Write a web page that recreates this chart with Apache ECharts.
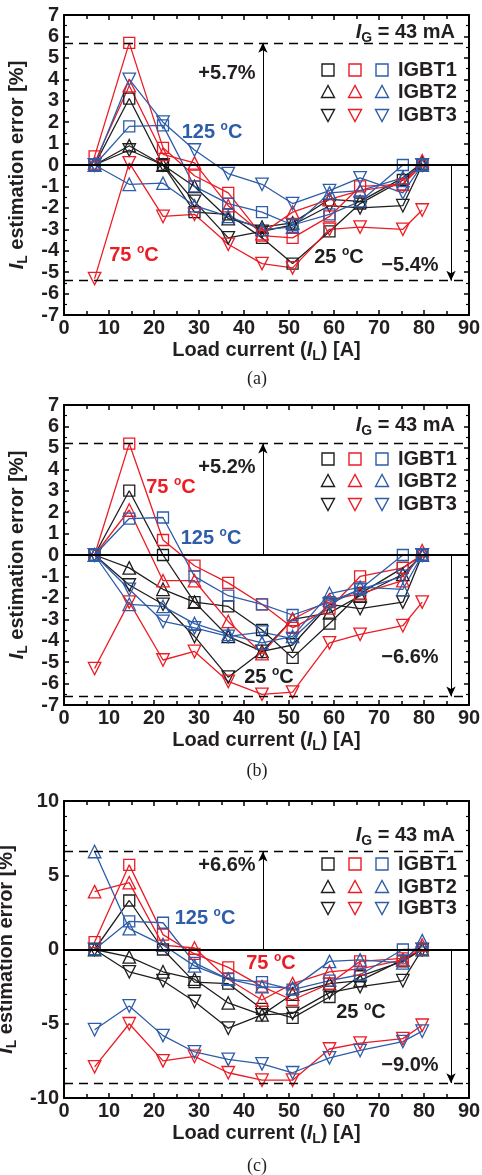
<!DOCTYPE html>
<html><head><meta charset="utf-8">
<script src="https://cdn.jsdelivr.net/npm/echarts@6/dist/echarts.min.js"></script>
<style>html,body{margin:0;padding:0;background:#fff}#c{width:482px;height:1175px}</style>
</head><body><div id="c"></div>
<script>
// ---- data ----
const LOAD_CURRENT = [6.8, 14.5, 22.0, 29.0, 36.5, 44.0, 50.8, 59.0, 65.8, 75.3, 79.6];
const X_TICKS = [0, 90, 10];
const Y_TICKS_A = [-7, 7, 1];
const Y_TICKS_B = [-7, 7, 1];
const Y_TICKS_C = [-10, 10, 5];
const BOUNDS_A = [5.7, -5.4];
const BOUNDS_B = [5.2, -6.6];
const BOUNDS_C = [6.6, -9.0];
const BOUND_LABELS = [['+5.7%', '\u22125.4%'], ['+5.2%', '\u22126.6%'], ['+6.6%', '\u22129.0%']];
const ARROW_X = [44.2, 86.0];
const TEMPS = ['25', '75', '125'];
const IGBTS = ['IGBT1', 'IGBT2', 'IGBT3'];
const CAPTIONS = ['(a)', '(b)', '(c)'];

// (a)
const A_25C_IGBT1 = [0, 3.1, 0, -2.2, -2.3, -3.4, -4.6, -3.1, -1.8, -0.7, 0];
const A_25C_IGBT2 = [0, 0.9, 0, -1.0, -2.5, -2.9, -2.7, -1.6, -1.7, -0.6, 0.1];
const A_25C_IGBT3 = [0, 0.7, 0, -1.7, -3.4, -3.1, -2.8, -1.9, -2.0, -1.9, 0];
const A_75C_IGBT1 = [0.4, 5.7, 0.8, -0.5, -1.3, -3.3, -3.4, -2.4, -1.0, -0.9, 0];
const A_75C_IGBT2 = [0.1, 3.7, 0.5, 0.1, -1.9, -3.2, -2.2, -1.6, -1.2, -0.9, 0.2];
const A_75C_IGBT3 = [-5.3, 0.1, -2.4, -2.3, -3.7, -4.6, -4.8, -3.0, -2.9, -3.0, -2.1];
const A_125C_IGBT1 = [0, 1.8, 1.85, -1.0, -1.8, -2.2, -2.8, -2.3, -1.7, 0, 0];
const A_125C_IGBT2 = [0, -0.9, -0.85, -1.9, -2.4, -3.0, -2.9, -1.3, -1.2, -0.6, 0];
const A_125C_IGBT3 = [0, 4.0, 2.0, 0.7, -0.4, -0.9, -1.8, -1.2, -0.6, -1.3, 0];
// (b)
const B_25C_IGBT1 = [0, 3.0, 0, -2.2, -2.4, -3.5, -4.8, -3.2, -1.8, -0.6, 0];
const B_25C_IGBT2 = [0, -0.6, -1.6, -2.2, -3.8, -4.5, -3.0, -2.7, -1.9, -0.9, 0];
const B_25C_IGBT3 = [0, -1.4, -2.3, -3.8, -5.7, -4.5, -4.2, -2.3, -2.5, -2.2, 0];
const B_75C_IGBT1 = [0, 5.2, 0.7, -0.5, -1.3, -2.3, -3.4, -2.5, -1.0, -0.6, 0];
const B_75C_IGBT2 = [0, 2.1, -1.2, -1.2, -3.1, -4.6, -3.0, -2.1, -1.8, -1.2, 0.2];
const B_75C_IGBT3 = [-5.3, -2.2, -4.9, -4.5, -5.9, -6.5, -6.4, -4.1, -3.7, -3.3, -2.2];
const B_125C_IGBT1 = [0, 1.7, 1.75, -1.0, -1.9, -2.3, -2.8, -2.2, -1.6, 0, 0];
const B_125C_IGBT2 = [0, -2.3, -2.4, -3.2, -3.7, -4.1, -3.8, -1.8, -1.5, -1.6, 0];
const B_125C_IGBT3 = [0, -1.6, -3.1, -3.4, -3.8, -3.6, -3.9, -2.3, -1.6, -1.0, 0];
// (c)
const C_25C_IGBT1 = [0, 3.3, 0, -2.2, -2.3, -4.0, -4.6, -3.2, -1.8, -0.8, 0];
const C_25C_IGBT2 = [0, -0.5, -1.5, -2.0, -3.6, -4.4, -3.0, -2.3, -2.1, -0.7, 0];
const C_25C_IGBT3 = [0, -1.5, -2.1, -3.5, -5.3, -4.4, -4.3, -2.9, -2.5, -2.1, 0];
const C_75C_IGBT1 = [0.5, 5.7, 1.0, -0.3, -1.2, -2.5, -3.4, -2.3, -0.8, -0.6, 0];
const C_75C_IGBT2 = [3.9, 4.5, 0.3, 0.1, -2.0, -3.4, -2.3, -1.5, -1.3, -0.7, 0.3];
const C_75C_IGBT3 = [-7.9, -5.0, -7.5, -7.2, -8.3, -8.8, -8.8, -6.7, -6.3, -6.0, -5.1];
const C_125C_IGBT1 = [0, 1.9, 1.8, -0.9, -2.0, -2.2, -2.7, -2.1, -1.7, 0, 0];
const C_125C_IGBT2 = [6.6, 1.4, 0.3, -1.1, -2.0, -2.5, -2.6, -0.8, -0.7, -0.9, 0.6];
const C_125C_IGBT3 = [-5.4, -3.8, -5.8, -6.9, -7.4, -7.7, -8.3, -7.3, -6.8, -6.2, -5.5];

const PANEL_DATA = [
  [[A_25C_IGBT1, A_25C_IGBT2, A_25C_IGBT3], [A_75C_IGBT1, A_75C_IGBT2, A_75C_IGBT3], [A_125C_IGBT1, A_125C_IGBT2, A_125C_IGBT3]],
  [[B_25C_IGBT1, B_25C_IGBT2, B_25C_IGBT3], [B_75C_IGBT1, B_75C_IGBT2, B_75C_IGBT3], [B_125C_IGBT1, B_125C_IGBT2, B_125C_IGBT3]],
  [[C_25C_IGBT1, C_25C_IGBT2, C_25C_IGBT3], [C_75C_IGBT1, C_75C_IGBT2, C_75C_IGBT3], [C_125C_IGBT1, C_125C_IGBT2, C_125C_IGBT3]]
];
const Y_TICKS = [Y_TICKS_A, Y_TICKS_B, Y_TICKS_C];
const BOUNDS = [BOUNDS_A, BOUNDS_B, BOUNDS_C];

// ---- styles / layout ----
const COLORS = ['#1e1e1e', '#ec1c24', '#2d5ca9'];
const INK = '#231f20';
const FONT = '"Liberation Sans", Arial, sans-serif';
const SERIF = '"Liberation Serif", "Times New Roman", serif';
const GRID_LEFT = 64, GRID_W = 405;
const PANEL_TOP = [15, 405, 801];
const PANEL_H = [300, 300, 297];
const SYMBOLS = [['rect', 0, 11], ['triangle', 0, 12.5], ['triangle', 180, 12.5]];

const rich = {
  n: {fontSize: 20, fontWeight: 'bold', fontFamily: FONT, color: INK, lineHeight: 26},
  i: {fontSize: 20, fontWeight: 'bold', fontStyle: 'italic', fontFamily: FONT, color: INK, lineHeight: 26},
  sub: {fontSize: 14, fontWeight: 'bold', fontFamily: FONT, color: INK, lineHeight: 13, verticalAlign: 'bottom'}
};
function tempRich(color) {
  return {
    n: {fontSize: 20, fontWeight: 'bold', fontFamily: FONT, fill: color, lineHeight: 22},
    s: {fontSize: 12, fontWeight: 'bold', fontFamily: FONT, fill: color, lineHeight: 12, verticalAlign: 'top'}
  };
}
const richFill = {
  n: {fontSize: 20, fontWeight: 'bold', fontFamily: FONT, fill: INK, lineHeight: 26},
  i: {fontSize: 20, fontWeight: 'bold', fontStyle: 'italic', fontFamily: FONT, fill: INK, lineHeight: 26},
  sub: {fontSize: 14, fontWeight: 'bold', fontFamily: FONT, fill: INK, lineHeight: 13, verticalAlign: 'bottom'}
};

const grids = [], xAxes = [], yAxes = [], series = [], graphics = [];

for (let p = 0; p < 3; p++) {
  grids.push({left: GRID_LEFT, width: GRID_W, top: PANEL_TOP[p], height: PANEL_H[p], containLabel: false, outerBoundsMode: 'none'});
  const [ymin, ymax, yint] = Y_TICKS[p];
  const axLine = {show: true, onZero: false, lineStyle: {color: '#000', width: 2}};
  const tick = {inside: true, length: 5, lineStyle: {color: '#000', width: 1.5}};
  xAxes.push({
    gridIndex: p, type: 'value', min: X_TICKS[0], max: X_TICKS[1], interval: X_TICKS[2], position: 'bottom',
    axisLine: axLine, axisTick: tick,
    minorTick: {show: true, splitNumber: 2, length: 4, lineStyle: {color: '#000', width: 1.5}},
    splitLine: {show: false},
    axisLabel: {fontSize: 20, fontWeight: 'bold', fontFamily: FONT, color: INK, margin: 3},
    name: '{n|Load current (}{i|I}{sub|L}{n|) [A]}', nameLocation: 'middle', nameGap: 22,
    nameTextStyle: {rich: rich}
  });
  xAxes.push({
    gridIndex: p, type: 'value', min: X_TICKS[0], max: X_TICKS[1], interval: X_TICKS[2], position: 'top',
    axisLine: axLine, axisTick: tick,
    minorTick: {show: true, splitNumber: 2, length: 4, lineStyle: {color: '#000', width: 1.5}},
    splitLine: {show: false}, axisLabel: {show: false}
  });
  yAxes.push({
    gridIndex: p, type: 'value', min: ymin, max: ymax, interval: yint, position: 'left',
    axisLine: axLine, axisTick: tick,
    minorTick: {show: true, splitNumber: p === 2 ? 5 : 2, length: 3, lineStyle: {color: '#000', width: 1.2}},
    splitLine: {show: false},
    axisLabel: {fontSize: 20, fontWeight: 'bold', fontFamily: FONT, color: INK, margin: 5},
    name: '{i|I}{sub|L}{n| estimation error [%]}', nameLocation: 'middle', nameGap: 33,
    nameTextStyle: {rich: rich}
  });
  yAxes.push({
    gridIndex: p, type: 'value', min: ymin, max: ymax, interval: yint, position: 'right',
    axisLine: axLine, axisTick: tick,
    minorTick: {show: true, splitNumber: p === 2 ? 5 : 2, length: 3, lineStyle: {color: '#000', width: 1.2}},
    splitLine: {show: false}, axisLabel: {show: false}
  });

  // reference lines (zero, bounds, arrows)
  const [bu, bl] = BOUNDS[p];
  series.push({
    type: 'line', xAxisIndex: p * 2, yAxisIndex: p * 2, data: [], silent: true,
    markLine: {
      silent: true, animation: false, symbol: 'none', label: {show: false},
      data: [
        {yAxis: 0, lineStyle: {type: 'solid', width: 2, color: '#000'}},
        {yAxis: bu, lineStyle: {type: [9, 6], width: 1.3, color: '#000'}},
        {yAxis: bl, lineStyle: {type: [9, 6], width: 1.3, color: '#000'}},
        [{coord: [ARROW_X[0], 0], symbol: 'none'}, {coord: [ARROW_X[0], bu], symbol: 'arrow', symbolSize: [7, 10], lineStyle: {type: 'solid', width: 1, color: '#000'}}],
        [{coord: [ARROW_X[1], 0], symbol: 'none'}, {coord: [ARROW_X[1], bl], symbol: 'arrow', symbolSize: [7, 10], lineStyle: {type: 'solid', width: 1, color: '#000'}}]
      ]
    }
  });

  for (let t = 0; t < 3; t++) {
    for (let i = 0; i < 3; i++) {
      const vals = PANEL_DATA[p][t][i];
      const [sym, rot, size] = SYMBOLS[i];
      series.push({
        type: 'line', name: TEMPS[t] + ' \u00baC ' + IGBTS[i],
        xAxisIndex: p * 2, yAxisIndex: p * 2,
        data: LOAD_CURRENT.map((x, k) => [x, vals[k]]),
        symbol: sym, symbolRotate: rot, symbolSize: size, showAllSymbol: true,
        lineStyle: {color: COLORS[t], width: 1.3},
        itemStyle: {color: 'rgba(255,255,255,0)', borderColor: COLORS[t], borderWidth: 1.3},
        emphasis: {disabled: true}, silent: true, z: 3
      });
    }
  }

  // annotations
  const top = PANEL_TOP[p];
  graphics.push({type: 'text', x: 455, y: top + [17, 20, 34][p], silent: true,
    style: {text: '{i|I}{sub|G}{n| = 43 mA}', rich: richFill, align: 'right', verticalAlign: 'middle'}});
  graphics.push({type: 'text', x: 227, y: top + [58, 62, 64][p], silent: true,
    style: {text: BOUND_LABELS[p][0], fontSize: 20, fontWeight: 'bold', fontFamily: FONT, fill: INK, align: 'center', verticalAlign: 'middle'}});
  graphics.push({type: 'text', x: 410, y: [265, 657, 1065][p], silent: true,
    style: {text: BOUND_LABELS[p][1], fontSize: 20, fontWeight: 'bold', fontFamily: FONT, fill: INK, align: 'center', verticalAlign: 'middle'}});
  // legend
  const rows = [[55, 77, 100], [54, 76, 99], [63, 86, 107]][p];
  const cols = [328, 355, 382];
  for (let i = 0; i < 3; i++) {
    const cy = top + rows[i];
    for (let t = 0; t < 3; t++) {
      const cx = cols[t];
      const st = {fill: 'none', stroke: COLORS[t], lineWidth: 1.4};
      if (i === 0) graphics.push({type: 'rect', silent: true, shape: {x: cx - 6, y: cy - 6, width: 12, height: 12}, style: st});
      else if (i === 1) graphics.push({type: 'polygon', silent: true, shape: {points: [[cx, cy - 6.5], [cx - 6.5, cy + 5.5], [cx + 6.5, cy + 5.5]]}, style: st});
      else graphics.push({type: 'polygon', silent: true, shape: {points: [[cx - 6.5, cy - 5.5], [cx + 6.5, cy - 5.5], [cx, cy + 6.5]]}, style: st});
    }
    graphics.push({type: 'text', x: 398, y: cy, silent: true,
      style: {text: IGBTS[i], fontSize: 20, fontWeight: 'bold', fontFamily: FONT, fill: INK, align: 'left', verticalAlign: 'middle'}});
  }
  // caption
  graphics.push({type: 'text', x: 257, y: [379, 771, 1166][p], silent: true,
    style: {text: CAPTIONS[p], fontSize: 18, fontFamily: SERIF, fill: INK, align: 'center', verticalAlign: 'middle'}});
}

// temperature labels
const TEMP_LABELS = [
  [212, 132, 2], [134, 255, 1], [339, 257, 0],
  [171, 487, 1], [211, 538, 2], [269, 677, 0],
  [205, 918, 2], [271, 963, 1], [361, 1012, 0]
];
TEMP_LABELS.forEach(([x, y, t]) => {
  graphics.push({type: 'text', x: x, y: y, silent: true,
    style: {text: '{n|' + TEMPS[t] + ' }{s|o}{n|C}', rich: tempRich(COLORS[t]), align: 'center', verticalAlign: 'middle'}});
});

const chart = echarts.init(document.getElementById('c'), null, {renderer: 'canvas'});
chart.setOption({
  animation: false,
  backgroundColor: '#fff',
  grid: grids, xAxis: xAxes, yAxis: yAxes, series: series,
  graphic: {elements: graphics}
});
</script>
</body></html>
